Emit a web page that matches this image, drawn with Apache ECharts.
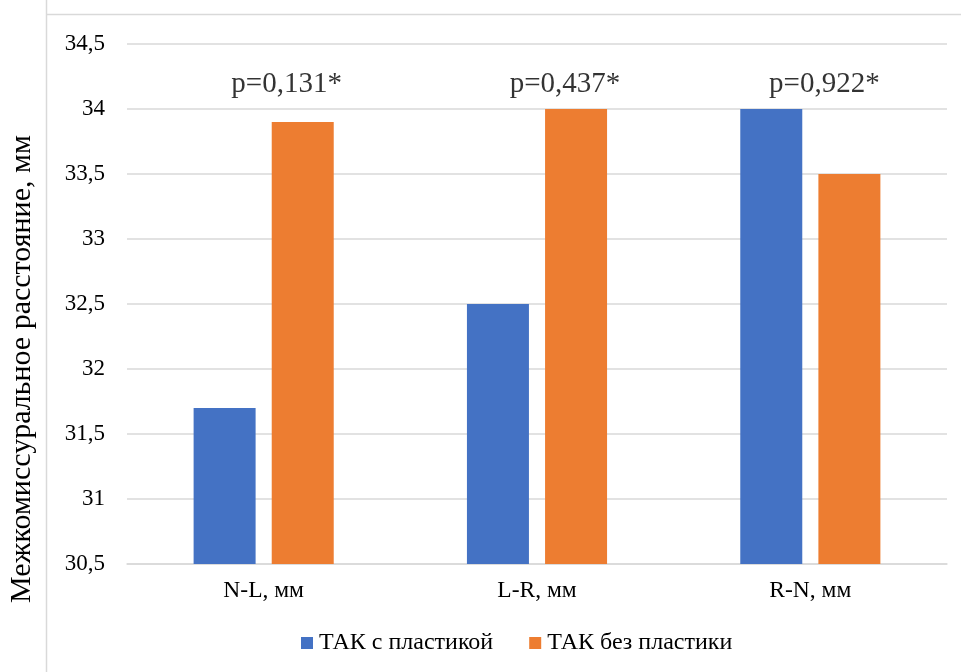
<!DOCTYPE html>
<html>
<head>
<meta charset="utf-8">
<script src="https://cdn.jsdelivr.net/npm/echarts@6/dist/echarts.min.js"></script>
<style>
  html, body { margin: 0; padding: 0; background: #fff; }
  #chart { width: 961px; height: 672px; }
</style>
</head>
<body>
<div id="chart"></div>
<script>
const categories = ['N-L, мм', 'L-R, мм', 'R-N, мм'];
const seriesNames = ['ТАК с пластикой', 'ТАК без пластики'];
const withPlasty = [31.7, 32.5, 34.0];
const withoutPlasty = [33.9, 34.0, 33.5];
const pValues = ['p=0,131*', 'p=0,437*', 'p=0,922*'];
const pLevel = [34.19, 34.19, 34.19];
const pShift = [23, 28, 14];
const yTitle = 'Межкомиссуральное расстояние, мм';

const font = 'Liberation Serif';
const chart = echarts.init(document.getElementById('chart'), null, { renderer: 'canvas' });

chart.setOption({
  animation: false,
  backgroundColor: '#ffffff',
  textStyle: { fontFamily: font },
  graphic: [
    { type: 'line', shape: { x1: 46.5, y1: 0, x2: 46.5, y2: 672 }, style: { stroke: '#d9d9d9', lineWidth: 1.5 } },
    { type: 'line', shape: { x1: 46, y1: 14.5, x2: 961, y2: 14.5 }, style: { stroke: '#d9d9d9', lineWidth: 1.5 } },
    {
      type: 'text', x: 22, y: 369, rotation: Math.PI / 2,
      style: {
        text: yTitle, fontFamily: font, fontSize: 30, fill: '#000',
        align: 'center', verticalAlign: 'middle'
      }
    }
  ],
  grid: { left: 127, right: 14, top: 44, bottom: 108, containLabel: false, outerBoundsMode: 'none' },
  legend: {
    data: seriesNames,
    bottom: 12,
    left: 296,
    itemWidth: 12,
    itemHeight: 12,
    itemGap: 36,
    icon: 'rect',
    textStyle: { fontFamily: font, fontSize: 24, color: '#000', padding: [0, 0, 0, 1] }
  },
  xAxis: {
    type: 'category',
    data: categories,
    axisLine: { lineStyle: { color: '#d9d9d9', width: 1.5 } },
    axisTick: { show: false },
    axisLabel: { fontFamily: font, fontSize: 23.5, color: '#000', margin: 15 }
  },
  yAxis: {
    type: 'value',
    min: 30.5,
    max: 34.5,
    interval: 0.5,
    axisLine: { show: false },
    axisTick: { show: false },
    splitLine: { lineStyle: { color: '#d9d9d9', width: 1.5 } },
    axisLabel: {
      fontFamily: font, fontSize: 23, color: '#000', margin: 22,
      formatter: v => String(v).replace('.', ',')
    }
  },
  series: [
    {
      name: seriesNames[0], type: 'bar', data: withPlasty,
      itemStyle: { color: '#4472C4' }, barWidth: 62, barGap: '26%'
    },
    {
      name: seriesNames[1], type: 'bar', data: withoutPlasty,
      itemStyle: { color: '#ED7D31' }, barWidth: 62
    },
    {
      type: 'scatter', symbolSize: 0, silent: true, z: 10,
      data: categories.map((c, i) => ({
        value: [c, pLevel[i]],
        label: {
          show: true, position: 'inside', offset: [pShift[i], 0],
          formatter: pValues[i], fontFamily: font, fontSize: 29, color: '#000'
        }
      })),
      tooltip: { show: false }
    }
  ]
});
</script>
</body>
</html>
